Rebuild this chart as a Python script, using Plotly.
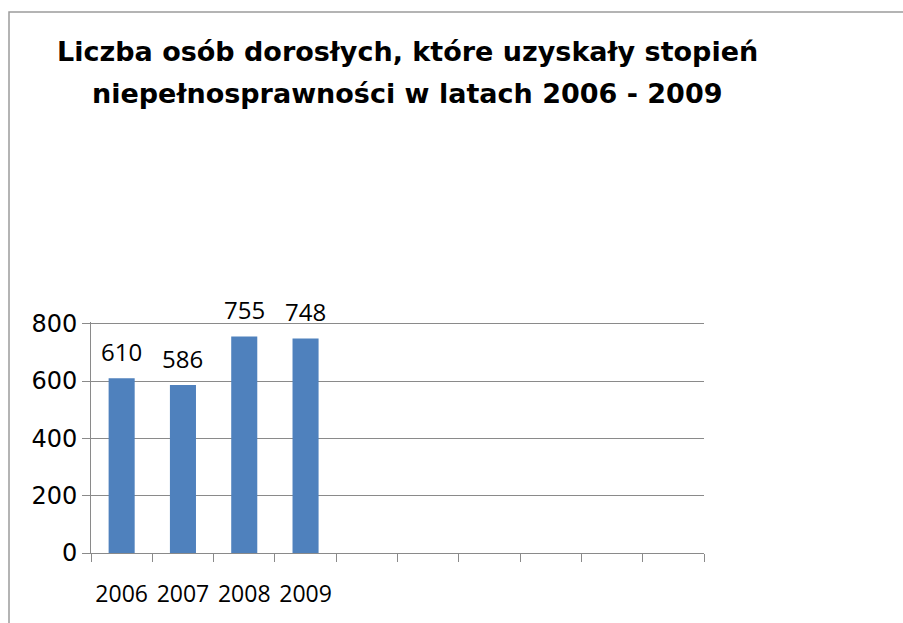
import plotly.graph_objects as go

# ---- data ----
years = ["2006", "2007", "2008", "2009"]
values = [610, 586, 755, 748]
value_labels = ["610", "586", "755", "748"]
empty_slots = [" " * i for i in range(1, 7)]  # six empty category slots
title_line1 = "Liczba osób dorosłych, które uzyskały stopień"
title_line2 = "niepełnosprawności w latach 2006 - 2009"
y_ticks = [0, 200, 400, 600, 800]

W, H = 903, 623
L, R = 91, 704     # plot area px (x)
Y_MAX = 806
B = 553.3
T = B - 229.8 * Y_MAX / 800  # so the 800 gridline sits at ~323.5 px

def px_x(px):
    return (px - L) / (R - L)

def px_y(py):
    return (B - py) / (B - T)

FONT = "Open Sans"
BAR = "#4f81bd"
GRID = "#8a8a8a"

fig = go.Figure()
fig.add_trace(go.Bar(
    x=years, y=values, marker=dict(color=BAR, line=dict(width=0)),
    hoverinfo="skip", showlegend=False,
))

annotations = []
for i, (v, lab) in enumerate(zip(values, value_labels)):
    annotations.append(dict(
        x=i, y=v, xref="x", yref="y", text=lab, showarrow=False,
        yanchor="middle", yshift=27,
        font=dict(family=FONT, size=24, color="#000000"),
    ))

annotations.append(dict(
    x=px_x(407), y=px_y(51), xref="paper", yref="paper", text="<b>" + title_line1 + "</b>",
    showarrow=False, xanchor="center", yanchor="middle",
    font=dict(family="DejaVu Sans", size=27, color="#000000"),
))
annotations.append(dict(
    x=px_x(407), y=px_y(93), xref="paper", yref="paper", text="<b>" + title_line2 + "</b>",
    showarrow=False, xanchor="center", yanchor="middle",
    font=dict(family="DejaVu Sans", size=27, color="#000000"),
))

fig.update_layout(
    width=W, height=H,
    margin=dict(l=L, r=W - R, t=T, b=H - B, pad=0, autoexpand=False),
    paper_bgcolor="white", plot_bgcolor="white",
    bargap=0.575,
    annotations=annotations,
    shapes=[dict(
        type="rect", xref="paper", yref="paper",
        x0=px_x(9), x1=px_x(W + 20), y0=px_y(H + 20), y1=px_y(11),
        line=dict(color="#9c9c9c", width=1.5), fillcolor="rgba(0,0,0,0)", layer="below",
    )],
    xaxis=dict(
        type="category", categoryorder="array", categoryarray=years + empty_slots,
        range=[-0.5, 9.5], tickson="boundaries", ticks="outside", ticklen=8,
        tickcolor=GRID, tickwidth=1, showline=True, linecolor=GRID, linewidth=1,
        showgrid=False, ticklabelstandoff=20, tickangle=0, automargin=False,
        tickfont=dict(family=FONT, size=23, color="#000000"),
    ),
    yaxis=dict(
        range=[0, Y_MAX], tickvals=y_ticks, ticks="outside", ticklen=8,
        tickcolor=GRID, showline=True, linecolor=GRID, linewidth=1,
        showgrid=True, gridcolor=GRID, gridwidth=1, zeroline=False, automargin=False,
        tickfont=dict(family="DejaVu Sans", size=24, color="#000000"),
    ),
)

fig.write_html("out.html", config={"displayModeBar": False},
               post_script="document.body.style.margin='0';")
